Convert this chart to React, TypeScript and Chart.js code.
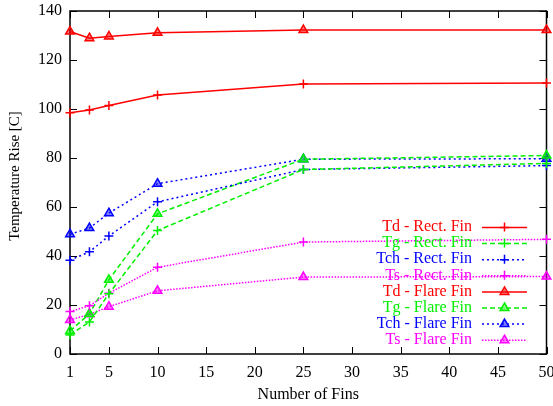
import React, { useEffect, useRef } from "react";
import { Chart, registerables } from "chart.js";

Chart.register(...registerables);

// ---------- data ----------
const fins = [1, 3, 5, 10, 25, 50];
const xTickValues = [1, 5, 10, 15, 20, 25, 30, 35, 40, 45, 50];
const yTickValues = [0, 20, 40, 60, 80, 100, 120, 140];

const tdRect = [98.5, 99.6, 101.4, 105.7, 110.2, 110.6];
const tgRect = [7.8, 13.1, 24.6, 50.4, 75.3, 77.8];
const tchRect = [38.3, 41.7, 48.2, 62.1, 75.3, 76.9];
const tsRect = [17.3, 19.7, 24.8, 35.4, 45.7, 46.8];
const tdFlare = [131.6, 128.9, 129.6, 131.1, 132.2, 132.2];
const tgFlare = [9.4, 16.4, 30.3, 57.2, 79.5, 81.0];
const tchFlare = [48.9, 51.4, 57.5, 69.5, 79.5, 79.7];
const tsFlare = [13.9, 16.2, 19.3, 25.8, 31.4, 31.6];

const seriesLabels = [
  "Td - Rect. Fin",
  "Tg - Rect. Fin",
  "Tch - Rect. Fin",
  "Ts - Rect. Fin",
  "Td - Flare Fin",
  "Tg - Flare Fin",
  "Tch - Flare Fin",
  "Ts - Flare Fin",
];
const seriesValues = [tdRect, tgRect, tchRect, tsRect, tdFlare, tgFlare, tchFlare, tsFlare];

const xTitle = "Number of Fins";
const yTitle = "Temperature Rise [C]";

// ---------- styles ----------
const FONT = '"Liberation Serif", "Times New Roman", serif';
const RED = "#ff0000";
const GREEN = "#00f000";
const BLUE = "#0000ff";
const MAGENTA = "#ff00ff";
const colors = [RED, GREEN, BLUE, MAGENTA, RED, GREEN, BLUE, MAGENTA];
const dashes: number[][] = [[], [5, 3], [2, 3], [1.5, 1.5], [], [5, 3], [2, 3], [1.5, 1.5]];

function withAlpha(hex: string, a: number) {
  const r = parseInt(hex.slice(1, 3), 16);
  const g = parseInt(hex.slice(3, 5), 16);
  const b = parseInt(hex.slice(5, 7), 16);
  return `rgba(${r},${g},${b},${a})`;
}

function zeroPadding(scale: any) {
  scale.paddingLeft = 0;
  scale.paddingRight = 0;
  scale.paddingTop = 0;
  scale.paddingBottom = 0;
}

const framePlugin = {
  id: "frame",
  beforeDatasetsDraw(chart: any) {
    const { ctx, chartArea } = chart;
    const { left, right, top, bottom } = chartArea;
    const xs = chart.scales.x;
    const ys = chart.scales.y;
    ctx.save();
    ctx.strokeStyle = "#000";
    ctx.lineWidth = 1.5;
    ctx.strokeRect(left, top, right - left, bottom - top);
    ctx.lineWidth = 1;
    ctx.beginPath();
    for (const v of xTickValues) {
      const px = Math.round(xs.getPixelForValue(v)) + 0.5;
      ctx.moveTo(px, bottom);
      ctx.lineTo(px, bottom - 7);
      ctx.moveTo(px, top);
      ctx.lineTo(px, top + 7);
    }
    for (const v of yTickValues) {
      const py = Math.round(ys.getPixelForValue(v)) + 0.5;
      ctx.moveTo(left, py);
      ctx.lineTo(left + 7, py);
      ctx.moveTo(right, py);
      ctx.lineTo(right - 7, py);
    }
    ctx.stroke();
    // y axis title
    ctx.fillStyle = "#000";
    ctx.font = `15px ${FONT}`;
    ctx.textAlign = "center";
    ctx.textBaseline = "middle";
    ctx.translate(15, 176);
    ctx.rotate(-Math.PI / 2);
    ctx.fillText(yTitle, 0, 0);
    ctx.restore();
  },
  afterDatasetsDraw(chart: any) {
    const { ctx } = chart;
    ctx.save();
    ctx.font = `16px ${FONT}`;
    ctx.textAlign = "right";
    ctx.textBaseline = "middle";
    const textRight = 472;
    const lineL = 482;
    const lineR = 527;
    const mid = (lineL + lineR) / 2;
    seriesLabels.forEach((label, i) => {
      const y = 227 + i * 16.1;
      const c = colors[i];
      ctx.fillStyle = c;
      ctx.fillText(label, textRight, y);
      ctx.strokeStyle = c;
      ctx.lineWidth = 1.5;
      ctx.setLineDash(dashes[i]);
      ctx.beginPath();
      ctx.moveTo(lineL, y + 0.5);
      ctx.lineTo(lineR, y + 0.5);
      ctx.stroke();
      ctx.setLineDash([]);
      ctx.beginPath();
      if (i < 4) {
        const r = 4.5;
        ctx.moveTo(mid - r, y + 0.5);
        ctx.lineTo(mid + r, y + 0.5);
        ctx.moveTo(mid, y - r);
        ctx.lineTo(mid, y + r);
        ctx.stroke();
      } else {
        const r = 5;
        const h = r * 1.5;
        ctx.moveTo(mid, y - (h * 2) / 3 + 0.5);
        ctx.lineTo(mid + r * 0.87, y + h / 3 + 0.5);
        ctx.lineTo(mid - r * 0.87, y + h / 3 + 0.5);
        ctx.closePath();
        ctx.fillStyle = withAlpha(c, 0.5);
        ctx.fill();
        ctx.stroke();
      }
    });
    ctx.restore();
  },
};

export default function App() {
  const ref = useRef<HTMLCanvasElement | null>(null);
  useEffect(() => {
    if (!ref.current) return;
    const datasets = seriesLabels.map((label, i) => ({
      label,
      data: fins.map((x, j) => ({ x, y: seriesValues[i][j] })),
      borderColor: colors[i],
      backgroundColor: i < 4 ? colors[i] : withAlpha(colors[i], 0.5),
      borderWidth: 1.5,
      borderDash: dashes[i],
      pointStyle: i < 4 ? "cross" : "triangle",
      pointRadius: i < 4 ? 4.5 : 5,
      pointBorderWidth: 1.5,
      pointBorderColor: colors[i],
      pointBackgroundColor: i < 4 ? colors[i] : withAlpha(colors[i], 0.5),
      showLine: true,
      tension: 0,
      clip: false as any,
    }));
    const chart = new Chart(ref.current, {
      type: "line",
      data: { datasets },
      options: {
        animation: false,
        responsive: false,
        devicePixelRatio: 1,
        layout: { padding: { left: 0, right: 6, top: 11, bottom: 0 } },
        plugins: { legend: { display: false }, tooltip: { enabled: false } },
        scales: {
          x: {
            type: "linear",
            min: 1,
            max: 50,
            grid: { display: false, drawTicks: false, tickLength: 0 },
            border: { display: false },
            afterBuildTicks: (scale: any) => {
              scale.ticks = xTickValues.map((v) => ({ value: v }));
            },
            afterFit: (scale: any) => {
              scale.height = 52;
              zeroPadding(scale);
            },
            ticks: {
              autoSkip: false,
              maxRotation: 0,
              padding: 9,
              color: "#000",
              font: { family: FONT, size: 16 },
            },
            title: {
              display: true,
              text: xTitle,
              color: "#000",
              font: { family: FONT, size: 16 },
              padding: { top: 0, bottom: 2 },
            },
          },
          y: {
            type: "linear",
            min: 0,
            max: 140,
            grid: { display: false, drawTicks: false, tickLength: 0 },
            border: { display: false },
            afterBuildTicks: (scale: any) => {
              scale.ticks = yTickValues.map((v) => ({ value: v }));
            },
            afterFit: (scale: any) => {
              scale.width = 70;
              zeroPadding(scale);
            },
            ticks: {
              padding: 8,
              color: "#000",
              font: { family: FONT, size: 16 },
            },
          },
        },
      },
      plugins: [framePlugin],
    });
    return () => chart.destroy();
  }, []);
  return (
    <div style={{ position: "fixed", left: 0, top: 0, width: 553, height: 406, background: "#fff" }}>
      <canvas ref={ref} width={553} height={406} style={{ width: 553, height: 406 }} />
    </div>
  );
}
